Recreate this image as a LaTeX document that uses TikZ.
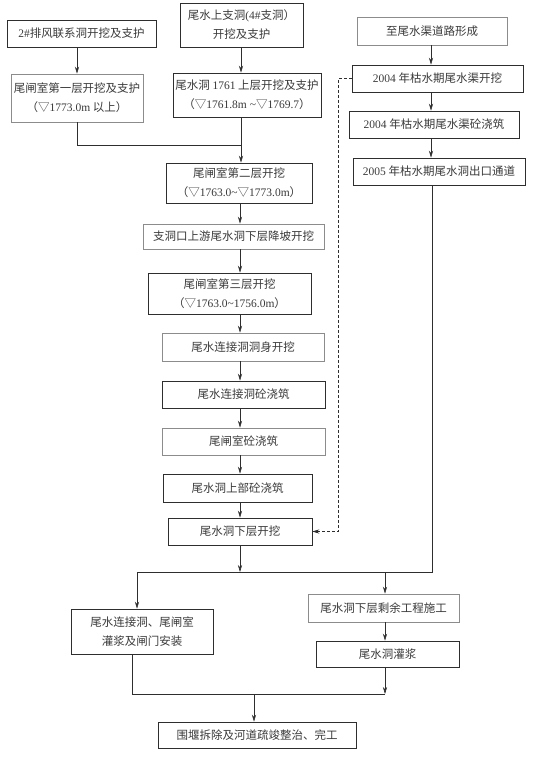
\documentclass[tikz,border=0pt]{standalone}
\usepackage{fontspec}
\setmainfont{Liberation Serif}
\newfontfamily\zh{Noto Sans CJK SC}
\usepackage{tikz}
\usetikzlibrary{arrows.meta}
\definecolor{FlowInk}{HTML}{3A3A3A}
\definecolor{FlowLine}{HTML}{2E2E2E}
\definecolor{FlowMute}{HTML}{8C8C8C}
\newcommand{\shu}[1]{{\rmfamily #1}}

\begin{document}
\begin{tikzpicture}[
    x=1pt, y=-1pt,
    proc/.style={
      draw=FlowLine,
      line width=0.7pt,
      fill=white,
      inner sep=0pt,
      align=center,
      text=FlowInk,
      font=\zh\fontsize{11.5pt}{19pt}\selectfont,
    },
    procg/.style={proc, draw=FlowMute},
    flow/.style={draw=FlowLine, line width=0.6pt},
    arr/.style={flow, -{Stealth[length=7pt, width=4.2pt]}},
  ]
    \useasboundingbox (0,0) rectangle (554,758);

    % top row
    \node[proc, minimum width=149pt, minimum height=27pt] (pf) at (81.5,33.5) {\shu{2\#}排风联系洞开挖及支护};
    \node[proc, minimum width=123pt, minimum height=44pt] (zd) at (241.5,25) {尾水上支洞\shu{(4\#}支洞）\\开挖及支护};
    \node[procg, minimum width=150pt, minimum height=28pt] (dl) at (432,31) {至尾水渠道路形成};

    \node[procg, minimum width=132pt, minimum height=48pt] (zc1) at (77,98) {尾闸室第一层开挖及支护\\（▽\shu{1773.0m} 以上）};
    \node[proc, minimum width=148pt, minimum height=44pt] (sc) at (247,95) {尾水洞 \shu{1761} 上层开挖及支护\\（▽\shu{1761.8m \textasciitilde}▽\shu{1769.7}）};

    % right column
    \node[proc, minimum width=171pt, minimum height=27pt] (q1) at (437.5,78.5) {\shu{2004} 年枯水期尾水渠开挖};
    \node[proc, minimum width=170pt, minimum height=27pt] (q2) at (434,124.5) {\shu{2004} 年枯水期尾水渠砼浇筑};
    \node[proc, minimum width=172pt, minimum height=27pt] (q3) at (439,171.5) {\shu{2005} 年枯水期尾水洞出口通道};

    % main column
    \node[proc, minimum width=146pt, minimum height=40pt] (zc2) at (239,183) {尾闸室第二层开挖\\（▽\shu{1763.0\textasciitilde}▽\shu{1773.0m}）};
    \node[procg, minimum width=181pt, minimum height=25pt] (jp) at (233.5,236.5) {支洞口上游尾水洞下层降坡开挖};
    \node[proc, minimum width=163pt, minimum height=41pt] (zc3) at (229.5,293.5) {尾闸室第三层开挖\\（▽\shu{1763.0\textasciitilde1756.0m}）};
    \node[procg, minimum width=162pt, minimum height=28pt] (ds) at (243,347) {尾水连接洞洞身开挖};
    \node[proc, minimum width=163pt, minimum height=27pt] (lj) at (243.5,394.5) {尾水连接洞砼浇筑};
    \node[procg, minimum width=163pt, minimum height=27pt] (zj) at (243.5,441.5) {尾闸室砼浇筑};
    \node[proc, minimum width=149pt, minimum height=28pt] (sb) at (237.5,488) {尾水洞上部砼浇筑};
    \node[proc, minimum width=144pt, minimum height=27pt] (xc) at (240,531.5) {尾水洞下层开挖};

    % bottom part
    \node[proc, minimum width=142pt, minimum height=45pt] (gj) at (142,631.5) {尾水连接洞、尾闸室\\灌浆及闸门安装};
    \node[procg, minimum width=151pt, minimum height=28pt] (sy) at (383.5,608) {尾水洞下层剩余工程施工};
    \node[proc, minimum width=143pt, minimum height=26pt] (wg) at (387.5,654) {尾水洞灌浆};
    \node[proc, minimum width=198pt, minimum height=26pt] (wc) at (257,735) {围堰拆除及河道疏竣整治、完工};

    % junctions
    \coordinate (m1) at (241,145);
    \coordinate (m2) at (240,572);
    \coordinate (mr) at (431,0);
    \coordinate (sl) at (137,572);
    \coordinate (sr) at (432,572);
    \coordinate (m3) at (385,572);
    \coordinate (m4) at (385,694);
    \coordinate (m5) at (132,694);
    \coordinate (m6) at (254,694);
    \coordinate (dx) at (338,0);

    \draw[arr] (pf.south -| zc1.north) -- (zc1.north);
    \draw[arr] (zd.south -| m1) -- (sc.north -| m1);
    \draw[flow] (zc1.south) |- (m1);
    \draw[arr] (sc.south -| m1) -- (zc2.north -| m1);

    \foreach \a/\b in {zc2/jp, jp/zc3, zc3/ds, ds/lj, lj/zj, zj/sb, sb/xc}
      \draw[arr] (\a.south -| m2) -- (\b.north -| m2);

    \foreach \a/\b in {dl/q1, q1/q2, q2/q3}
      \draw[arr] (\a.south -| mr) -- (\b.north -| mr);

    \draw[arr] (xc.south -| m2) -- (m2);
    \draw[flow] (q3.south -| sr) -- (sr) -- (sl);
    \draw[arr] (sl) -- (sl |- gj.north);
    \draw[arr] (m3) -- (m3 |- sy.north);
    \draw[arr] (sy.south -| m3) -- (wg.north -| m3);
    \draw[arr] (wg.south -| m4) -- (m4);
    \draw[flow] (gj.south -| m5) -- (m5) -- (m4);
    \draw[arr] (m6) -- (m6 |- wc.north);

    \draw[arr, dash pattern=on 3pt off 2pt] (q1.west) -- (q1.west -| dx) -- (xc.east -| dx) -- (xc.east);
  \end{tikzpicture}
\end{document}
